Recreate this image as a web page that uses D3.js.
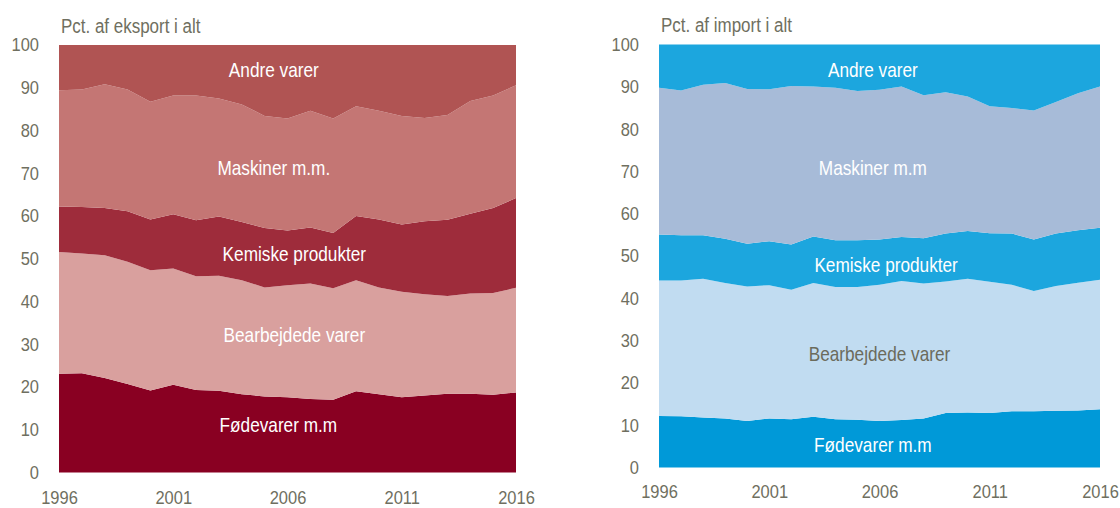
<!DOCTYPE html>
<html>
<head>
<meta charset="utf-8">
<script src="https://cdn.jsdelivr.net/npm/d3@7"></script>
<style>
	body { margin: 0; background: #fff; }
	svg text { font-family: "Liberation Sans", Arial, sans-serif; }
	.tick text { fill: #6f6f60; font-size: 18.5px; }
	.panel-title { fill: #6f6f60; font-size: 19.5px; }
	.band-label { font-size: 21px; text-anchor: middle; }
</style>
</head>
<body>
<svg id="chart" width="1120" height="508"></svg>
<script>
const years = d3.range(1996, 2017)
const keys = ['Fødevarer m.m', 'Bearbejdede varer', 'Kemiske produkter', 'Maskiner m.m.', 'Andre varer']

// eksport, andel i pct.
const eksFode = [23.1, 23.2, 22.1, 20.7, 19.2, 20.5, 19.3, 19.1, 18.3, 17.8, 17.6, 17.2, 17.0, 19.0, 18.3, 17.6, 18.0, 18.4, 18.4, 18.2, 18.7]
const eksBearb = [28.5, 28.0, 28.7, 28.6, 28.1, 27.2, 26.6, 26.9, 26.7, 25.5, 26.2, 27.0, 26.1, 26.0, 25.0, 24.7, 23.7, 22.9, 23.5, 23.8, 24.5]
const eksKemi = [10.6, 10.9, 11.1, 11.8, 11.9, 12.7, 13.1, 13.9, 13.6, 13.9, 12.8, 13.1, 12.9, 15.0, 15.9, 15.7, 17.1, 17.8, 18.6, 19.9, 21.0]
const eksMask = [27.2, 27.5, 28.9, 28.5, 27.5, 27.8, 29.2, 27.6, 27.5, 26.2, 26.2, 27.3, 26.8, 25.7, 25.4, 25.4, 24.1, 24.5, 26.4, 26.3, 26.4]
const eksAndre = [10.6, 10.4, 9.2, 10.4, 13.3, 11.8, 11.8, 12.5, 13.9, 16.6, 17.2, 15.4, 17.2, 14.3, 15.4, 16.6, 17.1, 16.4, 13.1, 11.8, 9.4]

// import, andel i pct.
const impFode = [12.2, 12.1, 11.8, 11.6, 11.0, 11.6, 11.4, 12.0, 11.4, 11.3, 11.0, 11.2, 11.6, 12.9, 13.0, 12.9, 13.3, 13.3, 13.4, 13.5, 13.8]
const impBearb = [32.0, 32.1, 32.8, 32.0, 31.8, 31.5, 30.6, 31.6, 31.3, 31.4, 32.2, 32.9, 31.9, 31.1, 31.6, 31.0, 29.9, 28.4, 29.5, 30.2, 30.6]
const impKemi = [10.9, 10.7, 10.3, 10.5, 10.1, 10.4, 10.7, 11.0, 11.0, 11.0, 10.7, 10.4, 10.7, 11.3, 11.3, 11.5, 12.1, 12.2, 12.4, 12.4, 12.3]
const impMask = [34.7, 34.2, 35.6, 36.8, 36.6, 35.9, 37.5, 35.5, 36.1, 35.3, 35.4, 35.6, 33.8, 33.4, 31.8, 30.0, 29.7, 30.5, 31.1, 32.4, 33.4]
const impAndre = [10.2, 10.9, 9.5, 9.1, 10.5, 10.6, 9.8, 9.9, 10.2, 11.0, 10.7, 9.9, 12.0, 11.3, 12.3, 14.6, 15.0, 15.6, 13.6, 11.5, 9.9]

const yTicks = d3.range(0, 101, 10)
const xTicks = [1996, 2001, 2006, 2011, 2016]

let toRows = cols => years.map((yr, i) => {
	let row = {year: yr}
	keys.forEach((k, j) => row[k] = cols[j][i])
	return row
})

let panels = [
	{
		title: 'Pct. af eksport i alt',
		rows: toRows([eksFode, eksBearb, eksKemi, eksMask, eksAndre]),
		x0: 59, x1: 516, top: 45, bottom: 472.5, xPad: 18,
		colors: ['#890022', '#d9a09e', '#9e2c3b', '#c47674', '#b05453'],
		labels: [
			{text: 'Fødevarer m.m', year: 2005.6, v: 11.1, color: '#fff'},
			{text: 'Bearbejdede varer', year: 2006.3, v: 32.2, color: '#fff'},
			{text: 'Kemiske produkter', year: 2006.3, v: 51.3, color: '#fff'},
			{text: 'Maskiner m.m.', year: 2005.4, v: 71.2, color: '#fff'},
			{text: 'Andre varer', year: 2005.4, v: 94.2, color: '#fff'}
		]
	},
	{
		title: 'Pct. af import i alt',
		rows: toRows([impFode, impBearb, impKemi, impMask, impAndre]),
		x0: 659, x1: 1100, top: 44.5, bottom: 467.5, xPad: 17.5,
		colors: ['#0099d8', '#c1dcf1', '#1ca6de', '#a7bbd8', '#1ca6de'],
		labels: [
			{text: 'Fødevarer m.m', year: 2005.7, v: 5.3, color: '#fff'},
			{text: 'Bearbejdede varer', year: 2006.0, v: 26.8, color: '#6b6b5c'},
			{text: 'Kemiske produkter', year: 2006.3, v: 47.9, color: '#fff'},
			{text: 'Maskiner m.m', year: 2005.7, v: 70.8, color: '#fff'},
			{text: 'Andre varer', year: 2005.7, v: 94.0, color: '#fff'}
		]
	}
]

let svg = d3.select('#chart')

// squeeze text horizontally round its anchor, the original uses a narrow typeface
let condense = (sel, k) => sel.each(function() {
	let ax = +this.getAttribute('x') || 0
	d3.select(this)
		.attr('transform', `translate(${ax},0) scale(${k},1) translate(${-ax},0)`)
})

let drawPanel = p => {
	let x = d3.scaleLinear().domain([1996, 2016]).range([p.x0, p.x1])
	let y = d3.scaleLinear().domain([0, 100]).range([p.bottom, p.top])

	let series = d3.stack().keys(keys)(p.rows)

	let area = d3.area()
		.x(d => x(d.data.year))
		.y0(d => y(d[0]))
		.y1(d => y(d[1]))

	let g = svg.append('g')

	g.selectAll('.layer')
		.data(series)
		.enter()
		.append('path')
		.attr('class', 'layer')
		.attr('fill', (d, i) => p.colors[i])
		.attr('d', area)

	g.selectAll('.band-label')
		.data(p.labels)
		.enter()
		.append('text')
		.attr('class', 'band-label')
		.attr('x', d => x(d.year))
		.attr('y', d => y(d.v))
		.attr('dy', '0.35em')
		.attr('fill', d => d.color)
		.text(d => d.text)
		.call(condense, 0.82)

	let yAxis = g.append('g')
		.attr('transform', `translate(${p.x0},0)`)
		.call(d3.axisLeft(y).tickValues(yTicks).tickSize(0).tickPadding(20))
	yAxis.select('.domain').remove()

	let xAxis = g.append('g')
		.attr('transform', `translate(0,${p.bottom})`)
		.call(d3.axisBottom(x).tickValues(xTicks).tickFormat(d3.format('d')).tickSize(0).tickPadding(p.xPad))
	xAxis.select('.domain').remove()

	svg.selectAll('g[font-family]').attr('font-family', null).attr('font-size', null)
	yAxis.selectAll('text').call(condense, 0.89)
	xAxis.selectAll('text').call(condense, 0.89)

	g.append('text')
		.attr('class', 'panel-title')
		.attr('x', p.x0 + 2)
		.attr('y', p.top - 12)
		.text(p.title)
		.call(condense, 0.87)
}

panels.forEach(drawPanel)
</script>
</body>
</html>
